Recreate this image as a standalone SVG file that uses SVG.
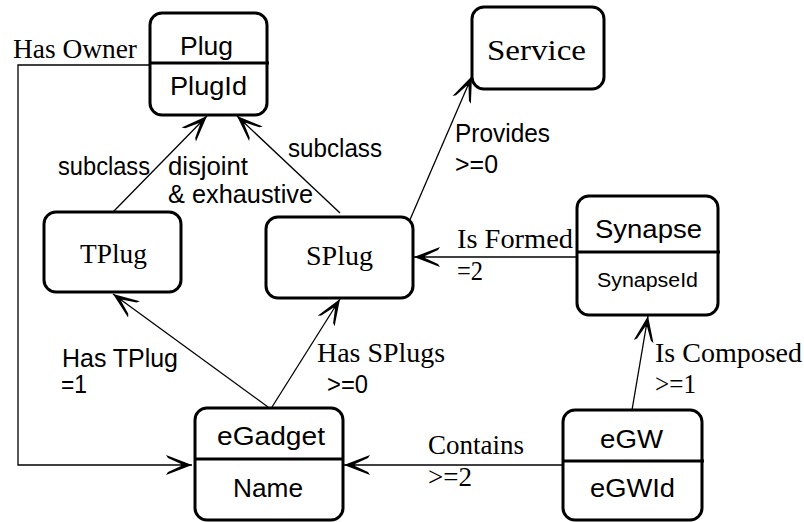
<svg xmlns="http://www.w3.org/2000/svg" width="804" height="522" viewBox="0 0 804 522">
<style>
.box{fill:#fff;stroke:#000;stroke-width:3}
.div{stroke:#000;stroke-width:3}
.con{fill:none;stroke:#000;stroke-width:1.3}
.sans{font-family:"Liberation Sans",Arial,sans-serif;font-size:25px;fill:#000}
.serif{font-family:"Liberation Serif","Times New Roman",serif;font-size:27px;fill:#000}
.small{font-size:20px}
</style>
<defs>
<marker id="arr" markerUnits="userSpaceOnUse" viewBox="-28 -12 30 24" refX="0" refY="0" markerWidth="30" markerHeight="24" orient="auto" overflow="visible">
<path d="M0,0 L-26,-10 L-24,-7 L-11,-1 L-11,1 L-24,7 L-26,10 Z" fill="#000"/>
</marker>
</defs>
<rect width="804" height="522" fill="#fff"/>
<g id="connectors">
<polyline class="con" points="150,65 18,65 18,465 192,465" marker-end="url(#arr)"/>
<line class="con" x1="113" y1="212" x2="207" y2="116" marker-end="url(#arr)"/>
<line class="con" x1="340" y1="213" x2="237" y2="116" marker-end="url(#arr)"/>
<line class="con" x1="409" y1="222" x2="472" y2="76" marker-end="url(#arr)"/>
<line class="con" x1="577" y1="257" x2="414" y2="257" marker-end="url(#arr)"/>
<line class="con" x1="268" y1="407" x2="113" y2="294" marker-end="url(#arr)"/>
<line class="con" x1="272" y1="407" x2="340" y2="299" marker-end="url(#arr)"/>
<line class="con" x1="632" y1="410" x2="648" y2="316" marker-end="url(#arr)"/>
<line class="con" x1="563" y1="465" x2="344" y2="465" marker-end="url(#arr)"/>
</g>
<g id="labels">
<text class="serif" x="13" y="58" textLength="124" lengthAdjust="spacingAndGlyphs">Has Owner</text>
<text class="sans" x="58" y="175" textLength="92" lengthAdjust="spacingAndGlyphs">subclass</text>
<text class="sans" x="168" y="175" textLength="80" lengthAdjust="spacingAndGlyphs">disjoint</text>
<text class="sans" x="168" y="203" textLength="145" lengthAdjust="spacingAndGlyphs">&amp; exhaustive</text>
<text class="sans" x="288" y="157" textLength="94" lengthAdjust="spacingAndGlyphs">subclass</text>
<text class="sans" x="455" y="142" textLength="95" lengthAdjust="spacingAndGlyphs">Provides</text>
<text class="sans" x="455" y="173" textLength="43" lengthAdjust="spacingAndGlyphs">&gt;=0</text>
<text class="serif" x="457" y="248" textLength="116" lengthAdjust="spacingAndGlyphs">Is Formed</text>
<text class="serif" x="457" y="280" textLength="26" lengthAdjust="spacingAndGlyphs">=2</text>
<text class="sans" x="62" y="367" textLength="116" lengthAdjust="spacingAndGlyphs">Has TPlug</text>
<text class="sans" x="61" y="393" textLength="26" lengthAdjust="spacingAndGlyphs">=1</text>
<text class="serif" x="317" y="362" textLength="128" lengthAdjust="spacingAndGlyphs">Has SPlugs</text>
<text class="sans" x="327" y="393" textLength="41" lengthAdjust="spacingAndGlyphs">&gt;=0</text>
<text class="serif" x="655" y="362" textLength="147" lengthAdjust="spacingAndGlyphs">Is Composed</text>
<text class="serif" x="655" y="393" textLength="41" lengthAdjust="spacingAndGlyphs">&gt;=1</text>
<text class="serif" x="428" y="454" textLength="96" lengthAdjust="spacingAndGlyphs">Contains</text>
<text class="serif" x="428" y="486" textLength="44" lengthAdjust="spacingAndGlyphs">&gt;=2</text>
</g>
<g id="plug">
<rect class="box" x="150" y="13" width="117" height="102" rx="12"/>
<line class="div" x1="150" y1="63" x2="269" y2="63"/>
<text class="sans" x="180" y="55" textLength="53" lengthAdjust="spacingAndGlyphs">Plug</text>
<text class="sans" x="170" y="95" textLength="77" lengthAdjust="spacingAndGlyphs">PlugId</text>
</g>
<g id="service">
<rect class="box" x="472" y="7" width="132" height="82" rx="12"/>
<text class="serif" x="487" y="60" textLength="99" lengthAdjust="spacingAndGlyphs" style="font-size:30px">Service</text>
</g>
<g id="tplug">
<rect class="box" x="44" y="212" width="137" height="80" rx="12"/>
<text class="serif" x="80" y="263" textLength="67" lengthAdjust="spacingAndGlyphs">TPlug</text>
</g>
<g id="splug">
<rect class="box" x="266" y="217" width="147" height="81" rx="12"/>
<text class="serif" x="306" y="265" textLength="67" lengthAdjust="spacingAndGlyphs">SPlug</text>
</g>
<g id="synapse">
<rect class="box" x="577" y="196" width="141" height="119" rx="12"/>
<line class="div" x1="577" y1="252" x2="720" y2="252"/>
<text class="sans" x="595" y="238" textLength="107" lengthAdjust="spacingAndGlyphs">Synapse</text>
<text class="sans small" x="597" y="287" textLength="101" lengthAdjust="spacingAndGlyphs">SynapseId</text>
</g>
<g id="egadget">
<rect class="box" x="195" y="408" width="148" height="112" rx="12"/>
<line class="div" x1="195" y1="459" x2="343" y2="459"/>
<text class="sans" x="217" y="445" textLength="108" lengthAdjust="spacingAndGlyphs">eGadget</text>
<text class="sans" x="233" y="497" textLength="70" lengthAdjust="spacingAndGlyphs">Name</text>
</g>
<g id="egw">
<rect class="box" x="563" y="410" width="139" height="110" rx="12"/>
<line class="div" x1="563" y1="461" x2="704" y2="461"/>
<text class="sans" x="600" y="448" textLength="63" lengthAdjust="spacingAndGlyphs">eGW</text>
<text class="sans" x="590" y="497" textLength="85" lengthAdjust="spacingAndGlyphs">eGWId</text>
</g>
</svg>
